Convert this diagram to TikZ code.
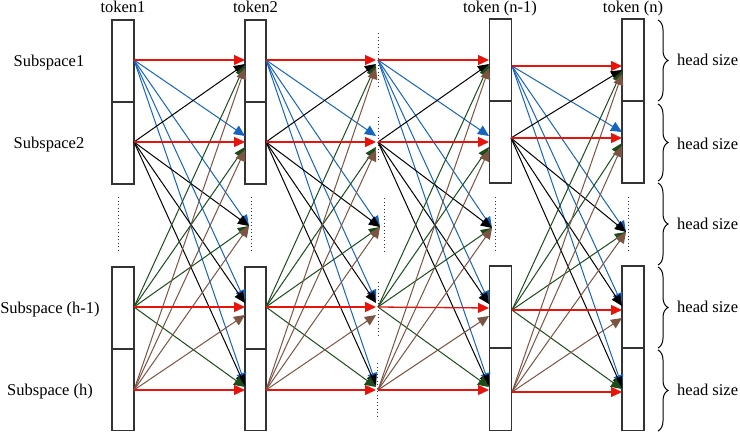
\documentclass[tikz,border=0pt]{standalone}
\usepackage{fontspec}
\setmainfont{Liberation Serif}
\usetikzlibrary{arrows.meta,decorations.pathreplacing,calc}
\definecolor{cred}{HTML}{E8140C}
\definecolor{cblue}{HTML}{1565C0}
\definecolor{cblack}{HTML}{000000}
\definecolor{cgreen}{HTML}{1B4D1B}
\definecolor{cbrown}{HTML}{7B5443}
\definecolor{cbox}{HTML}{333333}
\tikzset{
  cellbox/.style={draw=cbox,line width=1.2pt,fill=white,inner sep=0pt,outer sep=0pt,minimum width=22pt,minimum height=82pt},
  arr/.style={line width=1pt,-{Triangle[length=11pt,width=10pt]}},
  redarr/.style={arr,cred,line width=1.3pt},
  vdots/.style={draw=cbox,line width=1pt,dash pattern=on 0.9pt off 2.6pt},
  sidelabel/.style={font=\fontsize{16.5}{18}\selectfont,anchor=base,inner sep=0pt},
  toklabel/.style={font=\fontsize{16.5}{18}\selectfont,anchor=base,inner sep=0pt},
  hbrace/.style={draw=black,line width=1pt,decorate,decoration={brace,amplitude=10pt}},
}
\begin{document}
\begin{tikzpicture}[x=1pt,y=-1pt]
\useasboundingbox (0,0) rectangle (740,432);
\fill[white] (0,0) rectangle (740,432);
% boxes
\foreach \nm/\cx/\w/\ya/\yb/\yc/\yd/\ye/\yf in {t1/123/22/20/102/184/267/349/430.5, t2/255.5/21/20/102/184/267/349/430.5, tn/500.5/22/19/101/183/266/348/430.5, tN/633/22/19/101/183/266/348/430.5}{
  \node[cellbox,minimum width=\w pt,minimum height={\yb-\ya}] (\nm-a) at (\cx,{(\ya+\yb)/2}) {};
  \node[cellbox,minimum width=\w pt,minimum height={\yc-\yb}] (\nm-b) at (\cx,{(\yb+\yc)/2}) {};
  \node[cellbox,minimum width=\w pt,minimum height={\ye-\yd}] (\nm-c) at (\cx,{(\yd+\ye)/2}) {};
  \node[cellbox,minimum width=\w pt,minimum height={\yf-\ye}] (\nm-d) at (\cx,{(\ye+\yf)/2}) {};
}
% vertical dots
\draw[vdots] (118,197) -- (118,252);
\draw[vdots] (251,197) -- (251,252);
\draw[vdots] (384,198) -- (384,252);
\draw[vdots] (495,197) -- (495,250);
\draw[vdots] (628,197) -- (628,250);
\draw[vdots] (378,33) -- (378,87);
\draw[vdots] (378,117) -- (378,160);
\draw[vdots] (378,282) -- (378,335);
\draw[vdots] (377,363) -- (377,417);
% coordinates: stage A (token1 -> token2)
\coordinate (S-A-1) at (134,60);  \coordinate (S-A-2) at (134,142);
\coordinate (S-A-4) at (134,307); \coordinate (S-A-5) at (134,390);
\coordinate (T-A-1) at (245,60);  \coordinate (T-A-2) at (245,142);
\coordinate (T-A-3) at (249,226); \coordinate (T-A-4) at (245,307);
\coordinate (T-A-5) at (245,390);
% stage B (token2 -> middle)
\coordinate (S-B-1) at (266,60);  \coordinate (S-B-2) at (266,142);
\coordinate (S-B-4) at (266,307); \coordinate (S-B-5) at (266,390);
\coordinate (T-B-1) at (376,60);  \coordinate (T-B-2) at (376,142);
\coordinate (T-B-3) at (380,227); \coordinate (T-B-4) at (376,307);
\coordinate (T-B-5) at (376,390);
% stage C (middle -> token n-1)
\coordinate (S-C-1) at (378,60);  \coordinate (S-C-2) at (378,142);
\coordinate (S-C-4) at (378,307); \coordinate (S-C-5) at (378,390);
\coordinate (T-C-1) at (489,60);  \coordinate (T-C-2) at (489,142);
\coordinate (T-C-3) at (492,228); \coordinate (T-C-4) at (489,308);
\coordinate (T-C-5) at (489,390);
% stage D (token n-1 -> token n)
\coordinate (S-D-1) at (512,66);  \coordinate (S-D-2) at (511,138);
\coordinate (S-D-4) at (512,310); \coordinate (S-D-5) at (512,392);
\coordinate (T-D-1) at (622,66);  \coordinate (T-D-2) at (622,138);
\coordinate (T-D-3) at (626,232); \coordinate (T-D-4) at (622,310);
\coordinate (T-D-5) at (622,392);
% arrows
\foreach \st in {A,B,C,D}{
  \foreach \s/\col/\up/\dn in {1/cblue/-6/0,2/cblack/-4/4,4/cgreen/-3/5,5/cbrown/0/8}{
    \foreach \t in {1,2,3,4,5}{
      \ifnum\s=\t\relax\else
        \ifnum\s<\t\relax \def\off{\up}\else\def\off{\dn}\fi
        \ifnum\t=3\relax \def\off{0}\fi
        \draw[arr,\col] (S-\st-\s) -- ($(T-\st-\t)+(0,\off)$);
      \fi
    }
  }
  \foreach \s in {1,2,4,5}{
    \draw[redarr] (S-\st-\s) -- (T-\st-\s);
  }
}
% labels
\node[toklabel] (lt1) at (123,12) {token1};
\node[toklabel] (lt2) at (255.5,12) {token2};
\node[toklabel] (ltn) at (500,12) {token (n-1)};
\node[toklabel] (ltN) at (633,12) {token (n)};
\node[sidelabel] (ls1) at (49,66) {Subspace1};
\node[sidelabel] (ls2) at (49,148) {Subspace2};
\node[sidelabel] (ls4) at (50,313) {Subspace (h-1)};
\node[sidelabel] (ls5) at (50,395) {Subspace (h)};
% braces
\draw[hbrace] (658,20) -- (658,101);
\draw[hbrace] (658,104) -- (658,181);
\draw[hbrace] (658,183) -- (658,265);
\draw[hbrace] (658,267) -- (658,348);
\draw[hbrace] (658,350) -- (658,431);
\foreach \nm/\yy in {h1/65,h2/149,h3/229,h4/312,h5/395}{
  \node[sidelabel,anchor=base west] (\nm) at (677,\yy) {head size};
}
\end{tikzpicture}
\end{document}
